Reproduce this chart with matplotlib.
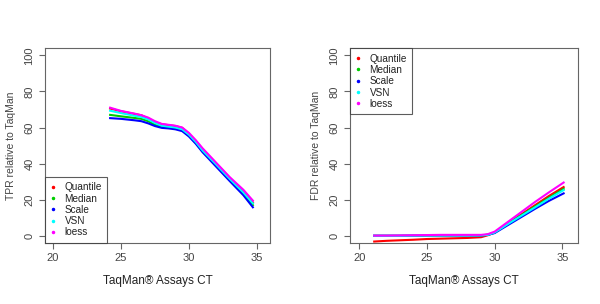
import matplotlib
matplotlib.use("Agg")
import matplotlib.pyplot as plt

plt.rcParams['font.family'] = ['Liberation Sans', 'DejaVu Sans']

methods = ["Quantile", "Median", "Scale", "VSN", "loess"]
colors = ["#FF0000", "#00CD00", "#0000FF", "#00FFFF", "#FF00FF"]

# TPR panel
x_tpr = [24.2, 25, 26, 26.5, 27, 27.5, 28, 28.5, 29, 29.5, 30, 30.5, 31, 32, 33, 34, 34.7]
tpr_quantile = [70.5, 69, 67.5, 66.8, 65, 63, 61.8, 61.3, 60.8, 59.8, 56.5, 52.5, 48, 40, 32, 24.5, 18.5]
tpr_median = [67, 66.2, 65.3, 64.8, 63.5, 61.5, 60.3, 60, 59.5, 58.5, 55.5, 51.5, 46.8, 39, 31, 23.3, 17]
tpr_scale = [65.2, 64.8, 64, 63.5, 62.3, 60.8, 59.8, 59.5, 59, 58, 55, 51, 46.3, 38.3, 30.3, 22.5, 15.8]
tpr_vsn = [69.3, 68, 66.5, 65.8, 64.5, 62.5, 61, 60.5, 60, 59, 56, 52, 47.3, 39.5, 31.5, 24, 18]
tpr_loess = [71, 69.2, 67.7, 66.8, 65.5, 63.5, 62, 61.5, 61, 60, 57, 53, 48.5, 40.5, 32.5, 25.5, 19.5]

# FDR panel
x_fdr = [21.1, 22, 23, 24, 25, 26, 27, 28, 29, 29.5, 30, 31, 32, 33, 34, 35.1]
fdr_quantile = [-3.2, -2.8, -2.5, -2.2, -1.8, -1.6, -1.4, -1.2, -0.8, 0.3, 1.8, 7, 12, 17, 22, 27]
fdr_median = [0, 0, 0, 0.1, 0.2, 0.2, 0.2, 0.2, 0.2, 0.6, 1.8, 6.8, 11.5, 16.3, 21, 26]
fdr_scale = [0, 0, 0, 0.1, 0.2, 0.2, 0.2, 0.2, 0.2, 0.5, 1.5, 6, 10.5, 15, 19.3, 23.5]
fdr_vsn = [0, 0, 0, 0.1, 0.2, 0.2, 0.2, 0.2, 0.2, 0.5, 1.8, 6.6, 11.2, 15.8, 20.5, 25.3]
fdr_loess = [0.1, 0.1, 0.2, 0.3, 0.4, 0.5, 0.5, 0.5, 0.5, 0.9, 2.3, 7.8, 13.3, 18.8, 24, 29.5]

x_ticks = [20, 25, 30, 35]
y_ticks = [0, 20, 40, 60, 80, 100]

box_col = "#666666"
txt_col = "#444444"

fig = plt.figure(figsize=(6, 3.04), dpi=100)
ax1 = fig.add_axes([0.075, 0.2007, 0.375, 0.641])
ax2 = fig.add_axes([0.5833, 0.2007, 0.38, 0.641])


def panel(ax, x, series, ylabel, xlim, loc):
    for name, col, y in zip(methods, colors, series):
        ax.plot(x, y, color=col, lw=1.5, label=name)
    ax.set_xlim(*xlim)
    ax.set_ylim(-4, 104)
    ax.set_xticks(x_ticks)
    ax.set_yticks(y_ticks)
    ax.tick_params(axis='y', labelrotation=90)
    for lab in ax.get_yticklabels():
        lab.set_va('center')
    ax.tick_params(colors=box_col, labelcolor=txt_col, labelsize=8, length=4, width=0.8)
    for s in ax.spines.values():
        s.set_color(box_col)
        s.set_linewidth(0.8)
    ax.set_xlabel("TaqMan® Assays CT", fontsize=8.5, color="#222222", labelpad=8)
    ax.set_ylabel(ylabel, fontsize=7.5, color=txt_col, labelpad=6)
    handles = [plt.Line2D([], [], ls='none', marker='.', ms=3, color=c) for c in colors]
    leg = ax.legend(handles, methods, loc=loc, fontsize=7.2, frameon=True, fancybox=False,
                    borderaxespad=0, handlelength=0.5, handletextpad=0.9,
                    labelspacing=0.13, borderpad=0.55)
    leg.get_frame().set_edgecolor("#333333")
    leg.get_frame().set_linewidth(0.8)
    for t in leg.get_texts():
        t.set_color("#222222")


panel(ax1, x_tpr, [tpr_quantile, tpr_median, tpr_scale, tpr_vsn, tpr_loess],
      "TPR relative to TaqMan", (19.41, 35.96), "lower left")
panel(ax2, x_fdr, [fdr_quantile, fdr_median, fdr_scale, fdr_vsn, fdr_loess],
      "FDR relative to TaqMan", (19.31, 36.16), "upper left")

fig.savefig("out.png", dpi=100)
